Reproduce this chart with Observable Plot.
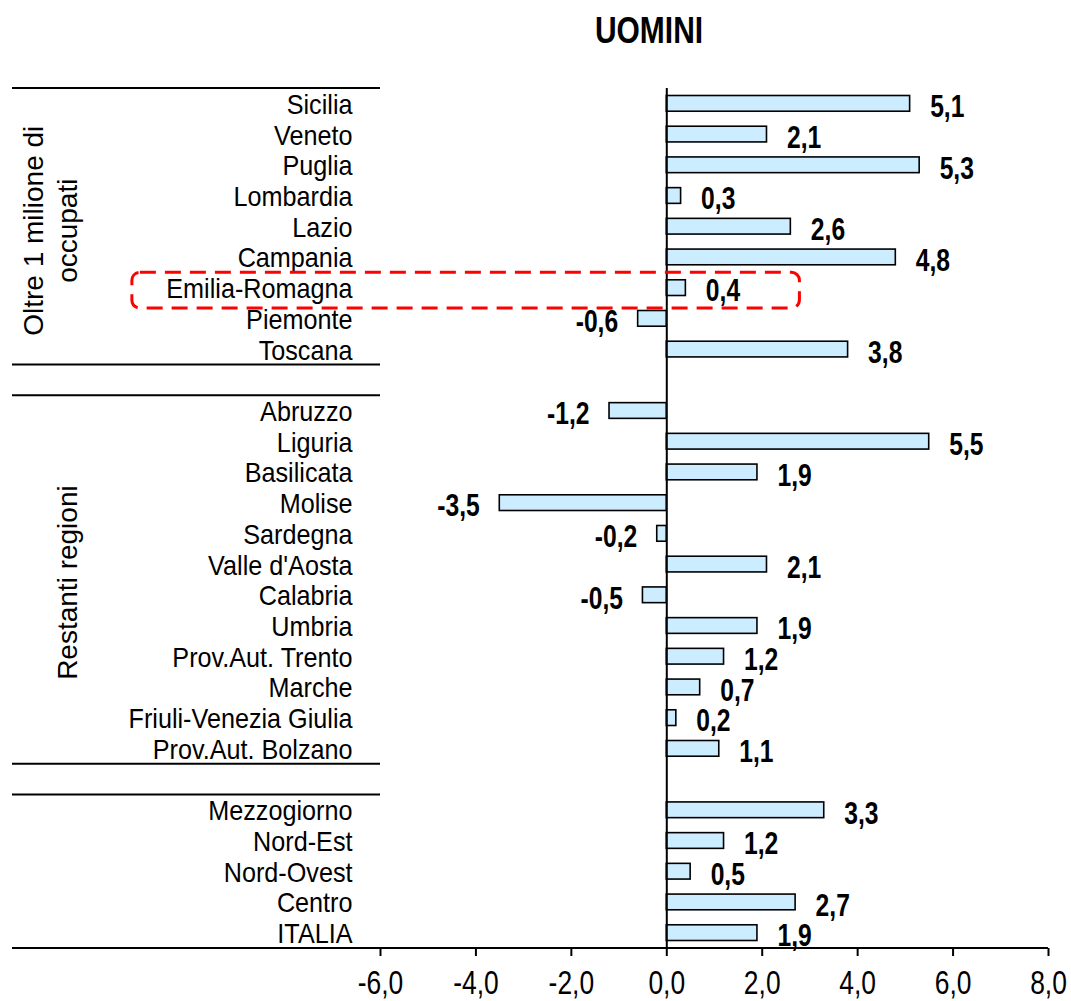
<!DOCTYPE html>
<html><head><meta charset="utf-8">
<script src="https://cdn.jsdelivr.net/npm/d3@7"></script>
<script src="https://cdn.jsdelivr.net/npm/@observablehq/plot@0.6"></script>
<style>
html,body{margin:0;padding:0;background:#fff;overflow:hidden}
#title{position:relative;height:60px;width:1071px}
#title span{position:absolute;left:649px;top:12px;font:bold 37px "Liberation Sans",Arial,sans-serif;line-height:37px;white-space:nowrap;transform:translateX(-50%) scaleX(0.81);color:#000}
</style></head><body>
<div id="title"><span></span></div>
<div id="chart"></div>
<script>
// ---- data ----
const chartTitle = "UOMINI";
const group1 = ["Sicilia","Veneto","Puglia","Lombardia","Lazio","Campania","Emilia-Romagna","Piemonte","Toscana"];
const values1 = [5.1,2.1,5.3,0.3,2.6,4.8,0.4,-0.6,3.8];
const group2 = ["Abruzzo","Liguria","Basilicata","Molise","Sardegna","Valle d'Aosta","Calabria","Umbria","Prov.Aut. Trento","Marche","Friuli-Venezia Giulia","Prov.Aut. Bolzano"];
const values2 = [-1.2,5.5,1.9,-3.5,-0.2,2.1,-0.5,1.9,1.2,0.7,0.2,1.1];
const group3 = ["Mezzogiorno","Nord-Est","Nord-Ovest","Centro","ITALIA"];
const values3 = [3.3,1.2,0.5,2.7,1.9];
const groupTitle1 = "Oltre 1 milione di\noccupati";
const groupTitle2 = "Restanti regioni";
const xTicks = [-6,-4,-2,0,2,4,6,8];
const highlighted = ["Emilia-Romagna"];

document.querySelector("#title span").textContent = chartTitle;

const fmt = v => v.toFixed(1).replace(".", ",");
const rows = [...group1, " ", ...group2, "  ", ...group3];
const data = [
  ...group1.map((r, i) => ({region: r, value: values1[i]})),
  ...group2.map((r, i) => ({region: r, value: values2[i]})),
  ...group3.map((r, i) => ({region: r, value: values3[i]}))
];
const FONT = '"Liberation Sans", Arial, sans-serif';
const LABEL_COL = 368;

function tableLines(index, scales, values, dim) {
  const y = scales.y, bw = y.bandwidth();
  const left = dim.marginLeft - LABEL_COL, frameL = dim.marginLeft, frameR = dim.width - dim.marginRight;
  const g = d3.create("svg:g").attr("stroke", "black").attr("stroke-width", 2).attr("fill", "none");
  const groups = [group1, group2, group3];
  groups.forEach((rs, i) => {
    const top = y(rs[0]), bottom = y(rs[rs.length - 1]) + bw;
    g.append("line").attr("x1", left).attr("x2", frameL).attr("y1", top).attr("y2", top);
    g.append("line").attr("x1", left).attr("x2", i === groups.length - 1 ? frameR : frameL).attr("y1", bottom).attr("y2", bottom);
  });
  return g.node();
}

const chart = Plot.plot({
  width: 1071,
  height: 941,
  marginLeft: 380,
  marginRight: 23,
  marginTop: 28,
  marginBottom: 53,
  style: {fontFamily: FONT, fontSize: "33px", color: "black", background: "white"},
  x: {domain: [-6, 8], ticks: xTicks, tickFormat: fmt, tickSize: 8, tickPadding: 14, label: null},
  y: {domain: rows, padding: 0, round: false, axis: null},
  marks: [
    Plot.barX(data, {x1: 0, x2: "value", y: "region", fill: "#CCECFF", stroke: "black", strokeWidth: 1.6, insetTop: 7.5, insetBottom: 7.5}),
    Plot.ruleX([0], {stroke: "black", strokeWidth: 2}),
    tableLines,
    Plot.text(data, {y: "region", text: "region", frameAnchor: "left", textAnchor: "end", dx: -28, dy: 1, fontSize: 28, fill: "black", ariaDescription: "cat"}),
    Plot.text(data.filter(d => d.value >= 0), {x: "value", y: "region", text: d => fmt(d.value), textAnchor: "start", dx: 20, dy: 3, fontSize: 32, fontWeight: "bold", fill: "black", ariaDescription: "val"}),
    Plot.text(data.filter(d => d.value < 0), {x: "value", y: "region", text: d => fmt(d.value), textAnchor: "end", dx: -20, dy: 3, fontSize: 32, fontWeight: "bold", fill: "black", ariaDescription: "val"}),
    Plot.text([groupTitle1], {y: () => "Lazio", text: d => d, frameAnchor: "left", rotate: -90, textAnchor: "middle", lineHeight: 1.21, dx: -331, dy: 4, fontSize: 28, fill: "black"}),
    Plot.text([groupTitle2], {y: () => "Valle d'Aosta", text: d => d, frameAnchor: "left", rotate: -90, textAnchor: "middle", dx: -312, dy: 18, fontSize: 28, fill: "black"}),
    Plot.barX(highlighted, {y: d => d, x1: -11.2, x2: 2.79, fill: "none", stroke: "#FF0000", strokeWidth: 3, strokeDasharray: "16,9", rx: 8, insetTop: 0, insetBottom: -5})
  ]
});

function squeeze(svg, sel, sx) {
  svg.querySelectorAll(sel).forEach(t => {
    const tr = t.getAttribute("transform") || "";
    t.setAttribute("transform", `${tr} scale(${sx},1)`.trim());
  });
}
const svg = chart.tagName.toLowerCase() === "svg" ? chart : chart.querySelector("svg");
squeeze(svg, '[aria-description="cat"] text', 0.9);
squeeze(svg, '[aria-description="val"] text', 0.77);
squeeze(svg, '[aria-label^="x-axis"] text', 0.8);
svg.querySelectorAll('[aria-label^="x-axis"] path, [aria-label^="x-axis"] line').forEach(p => p.setAttribute("stroke-width", 2));
document.getElementById("chart").appendChild(chart);
</script>
</body></html>
